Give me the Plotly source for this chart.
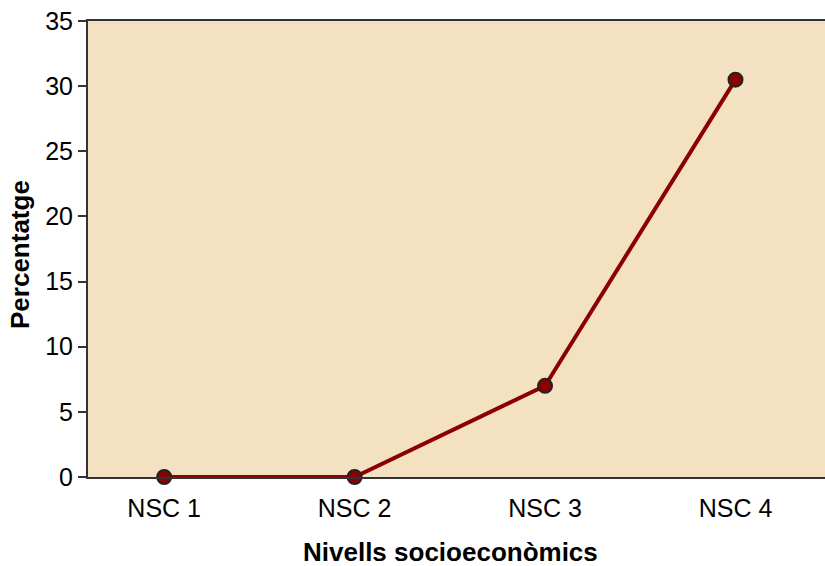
import plotly.graph_objects as go

categories = ["NSC 1", "NSC 2", "NSC 3", "NSC 4"]
percentages = [0, 0, 7, 30.5]
y_ticks = [0, 5, 10, 15, 20, 25, 30, 35]

fig = go.Figure()

fig.add_trace(go.Scatter(
    x=list(range(len(categories))),
    y=percentages,
    mode="lines+markers",
    line=dict(color="#8B0000", width=4),
    marker=dict(size=14, color="#8B0000", line=dict(color="#222222", width=2)),
    cliponaxis=False,
    showlegend=False,
))

# axis titles as annotations so the plot area keeps its fixed margins
fig.add_annotation(
    text="<b>Nivells socioeconòmics</b>", xref="paper", yref="paper",
    x=(450 - 88) / 737, y=(477 - 552) / 456, xanchor="center", yanchor="middle",
    showarrow=False, font=dict(size=26),
)
fig.add_annotation(
    text="<b>Percentatge</b>", xref="paper", yref="paper",
    x=(20 - 88) / 737, y=(477 - 255) / 456, xanchor="center", yanchor="middle",
    textangle=-90, showarrow=False, font=dict(size=26),
)

fig.update_layout(
    width=825,
    height=566,
    margin=dict(l=88, r=0, t=21, b=89),
    paper_bgcolor="white",
    plot_bgcolor="#F4E1C2",
    font=dict(family="Liberation Sans, Arial, sans-serif", color="black"),
    xaxis=dict(
        range=[-0.4, 3.47],
        tickvals=list(range(len(categories))),
        ticktext=categories,
        tickfont=dict(size=25),
        showgrid=False,
        zeroline=False,
        showline=True,
        linecolor="#333333",
        linewidth=2,
        mirror=True,
        ticks="outside",
        ticklen=8,
        tickwidth=2,
        tickcolor="rgba(0,0,0,0)",  # no visible x ticks, keep label gap
        automargin=False,
    ),
    yaxis=dict(
        range=[0, 35],
        tickvals=y_ticks,
        tickfont=dict(size=25),
        showgrid=False,
        zeroline=False,
        showline=True,
        linecolor="#333333",
        linewidth=2,
        ticks="outside",
        ticklen=8,
        tickwidth=2,
        tickcolor="#333333",
        automargin=False,
    ),
)

# drop the default page margin so the figure sits at the window's corner
fig.write_html("out.html", config={"displayModeBar": False},
               post_script="document.body.style.margin='0';")
